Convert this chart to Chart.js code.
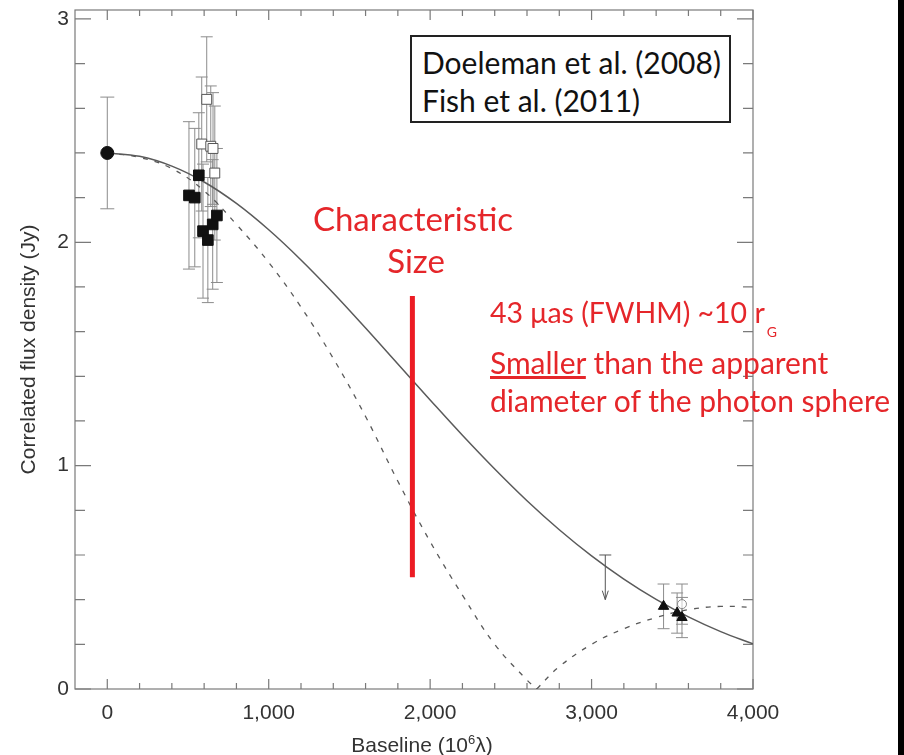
<!DOCTYPE html>
<html>
<head>
<meta charset="utf-8">
<title>Sgr A* correlated flux density vs baseline</title>
<script src="https://cdn.jsdelivr.net/npm/chart.js@4.4.1/dist/chart.umd.min.js"></script>
<style>
  html, body { margin: 0; padding: 0; background: #fff; }
  #wrap { position: relative; width: 904px; height: 755px; overflow: hidden; background: #fff; }
  #plot { position: absolute; left: 0; top: 0; }
  .note { position: absolute; white-space: nowrap; font-family: Lato, "Open Sans", sans-serif; }
  .red { color: #e5262a; }
  #refs { position: absolute; left: 410px; top: 35px; width: 317px; height: 84px;
          border: 2px solid #222; background: #fff; }
  #refs .note { color: #111; font-size: 30px; line-height: 36px; left: 10px; }
  #xtitle { position: absolute; left: 272px; width: 300px; top: 733px; height: 24px; text-align: center;
            font-family: "Liberation Sans", Arial, sans-serif; font-size: 21px; line-height: 24px; color: #333; }
  #xtitle sup { font-size: 13px; vertical-align: baseline; position: relative; top: -8px; }
  #edge { position: absolute; left: 898px; top: 0; width: 6px; height: 755px; background: #000; }
</style>
</head>
<body>
<div id="wrap">
  <canvas id="plot" width="904" height="755"></canvas>

  <div id="refs">
    <div class="note" style="top: 7px;">Doeleman et al. (2008)</div>
    <div class="note" style="top: 45px;">Fish et al. (2011)</div>
  </div>

  <div class="note red" style="left: 263px; width: 300px; text-align: center; top: 197px; font-size: 33px; line-height: 42px;">Characteristic</div>
  <div class="note red" style="left: 266px; width: 300px; text-align: center; top: 239px; font-size: 33px; line-height: 42px;">Size</div>

  <div class="note red" style="left: 490px; top: 293px; font-size: 28.5px; line-height: 38px;">43 μas (FWHM) ~10 r<span style="font-size: 14px; position: relative; top: 14px; left: 2px;">G</span></div>
  <div class="note red" style="left: 490px; top: 343px; font-size: 30px; line-height: 38px;"><span style="text-decoration: underline;">Smaller</span> than the apparent</div>
  <div class="note red" style="left: 490px; top: 381px; font-size: 30px; line-height: 38px;">diameter of the photon sphere</div>

  <div id="xtitle">Baseline (10<sup>6</sup>λ)</div>

  <div id="edge"></div>
</div>

<script>
// Baseline grid (10^6 lambda) for the two model curves
const modelBaseline = [0, 200, 400, 600, 800, 1000, 1200, 1400, 1600, 1800, 2000,
                       2200, 2400, 2600, 2800, 3000, 3200, 3400, 3600, 3800, 4000];
// Circular Gaussian model (solid)
const gaussFlux = [2.400, 2.385, 2.341, 2.270, 2.174, 2.056, 1.921, 1.773, 1.616, 1.455, 1.294,
                   1.136, 0.985, 0.843, 0.713, 0.596, 0.492, 0.401, 0.323, 0.257, 0.202];

// Annulus model (dashed), split at the null so the cusp stays sharp
const ringFallBaseline = [0, 200, 400, 600, 800, 1000, 1200, 1400, 1600, 1800, 2000, 2200, 2400, 2600, 2660];
const ringFallFlux     = [2.40, 2.38, 2.33, 2.23, 2.08, 1.91, 1.71, 1.48, 1.22, 0.93, 0.66, 0.42, 0.20, 0.04, 0];
const ringRiseBaseline = [2660, 2800, 3000, 3200, 3400, 3600, 3800, 4000];
const ringRiseFlux     = [0, 0.10, 0.20, 0.27, 0.32, 0.355, 0.37, 0.365];

// Short baseline (filled circle)
const smaBaseline = [0];
const smaFlux = [2.40];
const smaErr = [0.25];

// Doeleman et al. 2008 (filled squares)
const d08Baseline = [506, 542, 567, 593, 623, 653, 679];
const d08Flux     = [2.21, 2.20, 2.30, 2.05, 2.01, 2.08, 2.12];
const d08Err      = [0.33, 0.31, 0.28, 0.30, 0.28, 0.29, 0.30];

// Fish et al. 2011 (open squares)
const f11Baseline = [585, 616, 641, 655, 666];
const f11Flux     = [2.44, 2.64, 2.43, 2.42, 2.31];
const f11Err      = [0.30, 0.28, 0.27, 0.25, 0.30];

// Long baselines (filled triangles, open circle)
const longBaseline = [3446, 3530, 3560];
const longFlux     = [0.37, 0.34, 0.32];
const longErr      = [0.10, 0.09, 0.09];
const openBaseline = [3560];
const openFlux     = [0.38];
const openErr      = [0.09];

// Upper limit (arrow)
const limitBaseline = [3085];
const limitFlux = [0.60];
const limitArrowTo = [0.40];

// Characteristic size marker
const sizeBaseline = [1890, 1890];
const sizeFlux = [0.50, 1.76];

// Axis ticks
const xMajorTicks = [0, 1000, 2000, 3000, 4000];
const xMinorTicks = [200, 400, 600, 800, 1200, 1400, 1600, 1800, 2200, 2400, 2600, 2800, 3200, 3400, 3600, 3800];
const yMajorTicks = [0, 1, 2, 3];
const yMinorTicks = [0.2, 0.4, 0.6, 0.8, 1.2, 1.4, 1.6, 1.8, 2.2, 2.4, 2.6, 2.8];

const axisGray = '#7a7a7a';
const textGray = '#333';
const axisFont = 'Liberation Sans, Arial, sans-serif';

function toPoints(xs, ys) {
  return xs.map((v, i) => ({ x: v, y: ys[i] }));
}

// Box frame with inward ticks on all four sides
const frameTicks = {
  id: 'frameTicks',
  beforeDatasetsDraw(chart) {
    const { ctx, chartArea: a, scales: { x, y } } = chart;
    ctx.save();
    ctx.strokeStyle = axisGray;
    ctx.lineWidth = 1.2;
    ctx.strokeRect(a.left, a.top, a.right - a.left, a.bottom - a.top);
    ctx.beginPath();
    const xTick = (v, len) => {
      const px = x.getPixelForValue(v);
      ctx.moveTo(px, a.bottom); ctx.lineTo(px, a.bottom - len);
      ctx.moveTo(px, a.top); ctx.lineTo(px, a.top + len);
    };
    const yTick = (v, len) => {
      const py = y.getPixelForValue(v);
      ctx.moveTo(a.left, py); ctx.lineTo(a.left + len, py);
      ctx.moveTo(a.right, py); ctx.lineTo(a.right - len, py);
    };
    xMajorTicks.forEach(v => xTick(v, 10));
    xMinorTicks.forEach(v => xTick(v, 6));
    yMajorTicks.forEach(v => yTick(v, 16));
    yMinorTicks.forEach(v => yTick(v, 10));
    ctx.stroke();
    ctx.restore();
  }
};

// Vertical error bars with caps, plus the upper-limit arrow
const errorBars = {
  id: 'errorBars',
  beforeDatasetsDraw(chart) {
    const { ctx, scales: { x, y } } = chart;
    ctx.save();
    ctx.strokeStyle = '#8c8c8c';
    ctx.lineWidth = 1;
    const bars = (xs, ys, errs, cap) => {
      ctx.beginPath();
      xs.forEach((v, i) => {
        const px = x.getPixelForValue(v);
        const top = y.getPixelForValue(ys[i] + errs[i]);
        const bot = y.getPixelForValue(ys[i] - errs[i]);
        ctx.moveTo(px, top); ctx.lineTo(px, bot);
        ctx.moveTo(px - cap, top); ctx.lineTo(px + cap, top);
        ctx.moveTo(px - cap, bot); ctx.lineTo(px + cap, bot);
      });
      ctx.stroke();
    };
    bars(smaBaseline, smaFlux, smaErr, 7);
    bars(d08Baseline, d08Flux, d08Err, 6);
    bars(f11Baseline, f11Flux, f11Err, 6);
    bars(longBaseline, longFlux, longErr, 6);
    bars(openBaseline, openFlux, openErr, 6);

    ctx.strokeStyle = '#555';
    ctx.beginPath();
    limitBaseline.forEach((v, i) => {
      const px = x.getPixelForValue(v);
      const top = y.getPixelForValue(limitFlux[i]);
      const tip = y.getPixelForValue(limitArrowTo[i]);
      ctx.moveTo(px - 6, top); ctx.lineTo(px + 6, top);
      ctx.moveTo(px, top); ctx.lineTo(px, tip);
      ctx.moveTo(px - 3, tip - 9); ctx.lineTo(px, tip); ctx.lineTo(px + 3, tip - 9);
    });
    ctx.stroke();
    ctx.restore();
  }
};

const ctx = document.getElementById('plot').getContext('2d');
new Chart(ctx, {
  type: 'scatter',
  data: {
    datasets: [
      {
        data: toPoints(smaBaseline, smaFlux),
        pointStyle: 'circle', pointRadius: 6.5,
        backgroundColor: '#111', borderColor: '#111', borderWidth: 1
      },
      {
        data: toPoints(f11Baseline, f11Flux),
        pointStyle: 'rect', pointRadius: 7,
        backgroundColor: '#fff', borderColor: '#555', borderWidth: 1
      },
      {
        data: toPoints(d08Baseline, d08Flux),
        pointStyle: 'rect', pointRadius: 7.5,
        backgroundColor: '#111', borderColor: '#111', borderWidth: 1
      },
      {
        data: toPoints(openBaseline, openFlux),
        pointStyle: 'circle', pointRadius: 4.5,
        backgroundColor: 'rgba(255,255,255,0.7)', borderColor: '#888', borderWidth: 1
      },
      {
        data: toPoints(longBaseline, longFlux),
        pointStyle: 'triangle', pointRadius: 6,
        backgroundColor: '#111', borderColor: '#111', borderWidth: 1
      },
      {
        data: toPoints(sizeBaseline, sizeFlux),
        showLine: true, pointRadius: 0,
        borderColor: '#ec1c24', borderWidth: 5
      },
      {
        data: toPoints(modelBaseline, gaussFlux),
        showLine: true, pointRadius: 0, tension: 0.4,
        borderColor: '#5a5a5a', borderWidth: 1.5
      },
      {
        data: toPoints(ringFallBaseline, ringFallFlux),
        showLine: true, pointRadius: 0, tension: 0.4,
        borderColor: '#5a5a5a', borderWidth: 1.3, borderDash: [5, 7]
      },
      {
        data: toPoints(ringRiseBaseline, ringRiseFlux),
        showLine: true, pointRadius: 0, tension: 0.4,
        borderColor: '#5a5a5a', borderWidth: 1.3, borderDash: [5, 7]
      }
    ]
  },
  options: {
    responsive: false,
    animation: false,
    events: [],
    layout: { padding: { left: 0, top: 10, right: 151, bottom: 0 } },
    plugins: {
      legend: { display: false },
      tooltip: { enabled: false }
    },
    scales: {
      x: {
        type: 'linear',
        min: -200,
        max: 4000,
        afterBuildTicks: s => { s.ticks = xMajorTicks.map(v => ({ value: v })); },
        afterFit: s => { s.height = 66; s.paddingLeft = 0; s.paddingRight = 0; },
        grid: { display: false, drawTicks: false },
        border: { display: false },
        ticks: {
          padding: 12,
          color: textGray,
          font: { family: axisFont, size: 21 },
          callback: v => v.toLocaleString('en-US')
        }
      },
      y: {
        type: 'linear',
        min: 0,
        max: 3.04,
        afterBuildTicks: s => { s.ticks = yMajorTicks.map(v => ({ value: v })); },
        afterFit: s => { s.width = 75; s.paddingTop = 0; s.paddingBottom = 0; },
        grid: { display: false, drawTicks: false },
        border: { display: false },
        ticks: {
          padding: 6,
          color: textGray,
          font: { family: axisFont, size: 21 }
        },
        title: {
          display: true,
          text: 'Correlated flux density (Jy)',
          color: textGray,
          font: { family: axisFont, size: 21 },
          padding: { top: 17, bottom: 0 }
        }
      }
    }
  },
  plugins: [frameTicks, errorBars]
});
</script>
</body>
</html>
